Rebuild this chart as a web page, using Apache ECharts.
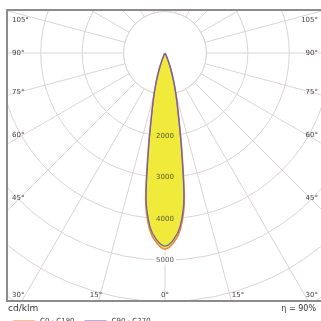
<!DOCTYPE html>
<html><head><meta charset="utf-8">
<script src="https://cdn.jsdelivr.net/npm/echarts@6/dist/echarts.min.js"></script>
<style>html,body{margin:0;padding:0;background:#fff}#c{width:321px;height:321px}</style>
</head><body><div id="c"></div>
<script>
// Photometric angles (deg from nadir) and intensities (cd/klm)
const gammaAngles = [0, 2.5, 5, 7.5, 10, 12.5, 15, 17.5, 20, 22.5, 25, 30, 35];
const c0c180 = [4730, 4590, 4270, 3580, 2300, 1480, 1020, 660, 390, 190, 75, 15, 0];
const c90c270 = [4660, 4520, 4200, 3500, 2250, 1450, 1000, 650, 380, 180, 70, 15, 0];
const radiusTicks = [2000, 3000, 4000, 5000];
const leftAngleLabels = ['105°', '90°', '75°', '60°', '45°', '30°'];
const rightAngleLabels = ['105°', '90°', '75°', '60°', '45°', '30°'];
const bottomAngleLabels = ['15°', '0°', '15°'];
const unitLabel = 'cd/klm';
const effLabel = 'η = 90%';
const seriesNames = ['C0 - C180', 'C90 - C270'];

const CX = 165, CY = 53, RMAX = 7000, RPX = 290;
const scale = RPX / RMAX;

function mirror(vals) {
  const out = [];
  for (let i = gammaAngles.length - 1; i > 0; i--) out.push([vals[i], -gammaAngles[i]]);
  for (let i = 0; i < gammaAngles.length; i++) out.push([vals[i], gammaAngles[i]]);
  return out;
}

const grid = '#dcd4d4';
const chart = echarts.init(document.getElementById('c'), null, {renderer: 'canvas'});

const leftY = [20, 53, 92, 135, 198, 295];
const rightY = [20, 53, 92, 135, 198, 295];
const bottomX = [96, 165, 238];

const graphics = [
  {type: 'circle', z: 1, shape: {cx: CX, cy: CY, r: 1000 * scale}, style: {fill: '#fff', stroke: grid, lineWidth: 1}},
  {type: 'rect', z: 10, shape: {x: 0, y: 0, width: 321, height: 9}, style: {fill: '#fff'}},
  {type: 'rect', z: 10, shape: {x: 0, y: 0, width: 6, height: 321}, style: {fill: '#fff'}},
  {type: 'rect', z: 10, shape: {x: 0, y: 302, width: 321, height: 19}, style: {fill: '#fff'}},
  {type: 'rect', z: 11, shape: {x: 7, y: 10, width: 330, height: 291}, style: {fill: null, stroke: '#8c8c8c', lineWidth: 2}},
  {type: 'text', z: 12, left: 8, top: 304, style: {text: unitLabel, fontSize: 9, fill: '#333', fontFamily: 'DejaVu Sans'}},
  {type: 'text', z: 12, right: 5, top: 305, style: {text: effLabel, fontSize: 8, fill: '#333', fontFamily: 'DejaVu Sans'}}
];
leftAngleLabels.forEach((t, i) => graphics.push({type: 'text', z: 12, x: 12, y: leftY[i], style: {text: t, fontSize: 7, fill: '#444', fontFamily: 'DejaVu Sans', verticalAlign: 'middle', align: 'left'}}));
rightAngleLabels.forEach((t, i) => graphics.push({type: 'text', z: 12, x: 318, y: rightY[i], style: {text: t, fontSize: 7, fill: '#444', fontFamily: 'DejaVu Sans', verticalAlign: 'middle', align: 'right'}}));
bottomAngleLabels.forEach((t, i) => graphics.push({type: 'text', z: 12, x: bottomX[i], y: 295, style: {text: t, fontSize: 7, fill: '#444', fontFamily: 'DejaVu Sans', verticalAlign: 'middle', align: 'center'}}));

chart.setOption({
  animation: false,
  backgroundColor: '#fff',
  polar: {center: [CX, CY], radius: RPX},
  angleAxis: {
    type: 'value', min: -180, max: 180, interval: 15, startAngle: 90, clockwise: true,
    axisLine: {show: false}, axisTick: {show: false}, axisLabel: {show: false},
    splitLine: {show: true, lineStyle: {color: grid, width: 1}}
  },
  radiusAxis: {
    type: 'value', min: 0, max: RMAX, interval: 1000,
    axisLine: {show: false}, axisTick: {show: false}, axisLabel: {show: false},
    splitLine: {show: true, lineStyle: {color: grid, width: 1}}
  },
  legend: {
    z: 30, zlevel: 1, left: 8, top: 313, itemWidth: 22, itemHeight: 2, itemGap: 10, icon: 'rect',
    textStyle: {fontSize: 7, color: '#444', fontFamily: 'DejaVu Sans'},
    data: seriesNames
  },
  graphic: graphics,
  series: [
    {
      name: seriesNames[0], type: 'line', coordinateSystem: 'polar', z: 3,
      data: mirror(c0c180), symbol: 'none', smooth: 0.3,
      lineStyle: {color: '#e98a3c', width: 1.6}, itemStyle: {color: '#e98a3c'},
      areaStyle: {color: '#efe92c', opacity: 0.93}
    },
    {
      name: seriesNames[1], type: 'line', coordinateSystem: 'polar', z: 4,
      data: mirror(c90c270), symbol: 'none', smooth: 0.3,
      lineStyle: {color: '#6c5fb4', width: 1.3}, itemStyle: {color: '#6c5fb4'}
    },
    {
      type: 'scatter', coordinateSystem: 'polar', z: 5, symbolSize: 0, silent: true,
      data: radiusTicks.map(v => ({value: [v, 0], label: v > 4700 ? {backgroundColor: '#fff', padding: [1, 2]} : {}})),
      label: {show: true, position: 'inside', formatter: p => String(p.value[0]), fontSize: 7, color: '#333', fontFamily: 'DejaVu Sans'}
    }
  ]
});
</script></body></html>
